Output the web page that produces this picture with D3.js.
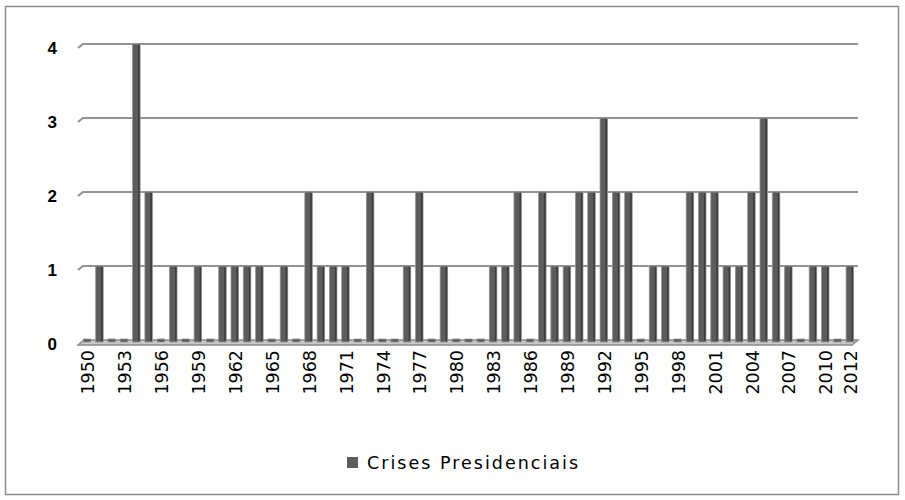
<!DOCTYPE html>
<html>
<head>
<meta charset="utf-8">
<script src="https://cdn.jsdelivr.net/npm/d3@7"></script>
<style>
    body { margin: 0; background: #fff; }
    svg { display: block; }
</style>
</head>
<body>
<svg width="905" height="500"></svg>
<script>
const years = d3.range(1950, 2013);
const crises = [
    0, 1, 0, 0, 4, 2, 0, 1, 0, 1,
    0, 1, 1, 1, 1, 0, 1, 0, 2, 1,
    1, 1, 0, 2, 0, 0, 1, 2, 0, 1,
    0, 0, 0, 1, 1, 2, 0, 2, 1, 1,
    2, 2, 3, 2, 2, 0, 1, 1, 0, 2,
    2, 2, 1, 1, 2, 3, 2, 1, 0, 1,
    1, 0, 1
];
const yTicks = [0, 1, 2, 3, 4];
const xTickLabels = [1950, 1953, 1956, 1959, 1962, 1965, 1968, 1971, 1974, 1977, 1980,
    1983, 1986, 1989, 1992, 1995, 1998, 2001, 2004, 2007, 2010, 2012];
const seriesName = 'Crises Presidenciais';

const data = years.map((y, i) => ({year: y, value: crises[i]}));

const svg = d3.select('svg');

// moldura do grafico
svg.append('rect')
    .attr('x', 5.5).attr('y', 6.5)
    .attr('width', 893).attr('height', 488)
    .attr('fill', '#fff')
    .attr('stroke', '#8c8c8c')
    .attr('stroke-width', 1.5);

const x = d3.scaleBand()
    .domain(years)
    .range([80, 855])
    .padding(0);

const y = d3.scaleLinear()
    .domain([0, 4])
    .range([340, 44]);

// linhas de grade (parede de fundo + lateral inclinada)
const grid = svg.append('g').attr('class', 'grid');
yTicks.filter(v => v > 0).forEach(v => {
    grid.append('path')
        .attr('d', `M78,${y(v) + 4} L83,${y(v)} L858,${y(v)}`)
        .attr('fill', 'none')
        .attr('stroke', '#939393')
        .attr('stroke-width', 2.2);
});

// piso
grid.append('path')
    .attr('d', `M78,${y(0) + 5} L84,${y(0)} L858,${y(0)} L852,${y(0) + 5} Z`)
    .attr('fill', '#c8c8c8')
    .attr('stroke', '#8a8a8a')
    .attr('stroke-width', 1.5);

// barras
const bw = 7.5;
const bars = svg.append('g').attr('class', 'bars')
    .selectAll('g')
    .data(data)
    .enter().append('g')
    .attr('transform', d => 'translate(' + (x(d.year) + x.bandwidth() / 2 + 1 - bw / 2) + ',0)');

bars.append('rect')
    .attr('x', 0)
    .attr('y', d => d.value ? y(d.value) : y(0) - 1)
    .attr('width', bw)
    .attr('height', d => d.value ? y(0) + 2 - y(d.value) : 3)
    .attr('fill', '#5c5c5c')
    .attr('stroke', '#939393')
    .attr('stroke-width', 0.8);

bars.filter(d => d.value > 0).append('rect')
    .attr('x', bw - 2)
    .attr('y', d => y(d.value) + 1)
    .attr('width', 1.5)
    .attr('height', d => y(0) - y(d.value))
    .attr('fill', '#3c3c3c');

// eixo y
const yAxis = svg.append('g').attr('class', 'y-axis');
yAxis.selectAll('text')
    .data(yTicks)
    .enter().append('text')
    .attr('x', 57)
    .attr('y', d => y(d) + 4)
    .attr('dy', '0.35em')
    .attr('text-anchor', 'end')
    .attr('font-family', 'Liberation Sans, Arial, sans-serif')
    .attr('font-weight', 'bold')
    .attr('font-size', 17)
    .attr('fill', '#000')
    .text(d => d);

// eixo x
const xAxis = svg.append('g').attr('class', 'x-axis');
xAxis.selectAll('text')
    .data(xTickLabels)
    .enter().append('text')
    .attr('transform', d => 'translate(' + (x(d) + x.bandwidth() / 2 + 2) + ',350) rotate(-90)')
    .attr('dy', '0.35em')
    .attr('text-anchor', 'end')
    .attr('font-family', 'DejaVu Sans, sans-serif')
    .attr('font-size', 17.5)
    .attr('fill', '#000')
    .text(d => d);

// legenda
const legend = svg.append('g').attr('class', 'legend');
legend.append('rect')
    .attr('x', 347).attr('y', 457)
    .attr('width', 11).attr('height', 11)
    .attr('fill', '#5c5c5c');
legend.append('text')
    .attr('x', 367).attr('y', 463)
    .attr('dy', '0.35em')
    .attr('font-family', 'DejaVu Sans, sans-serif')
    .attr('font-size', 17.5)
    .attr('textLength', 211)
    .attr('lengthAdjust', 'spacing')
    .attr('fill', '#000')
    .text(seriesName);
</script>
</body>
</html>
